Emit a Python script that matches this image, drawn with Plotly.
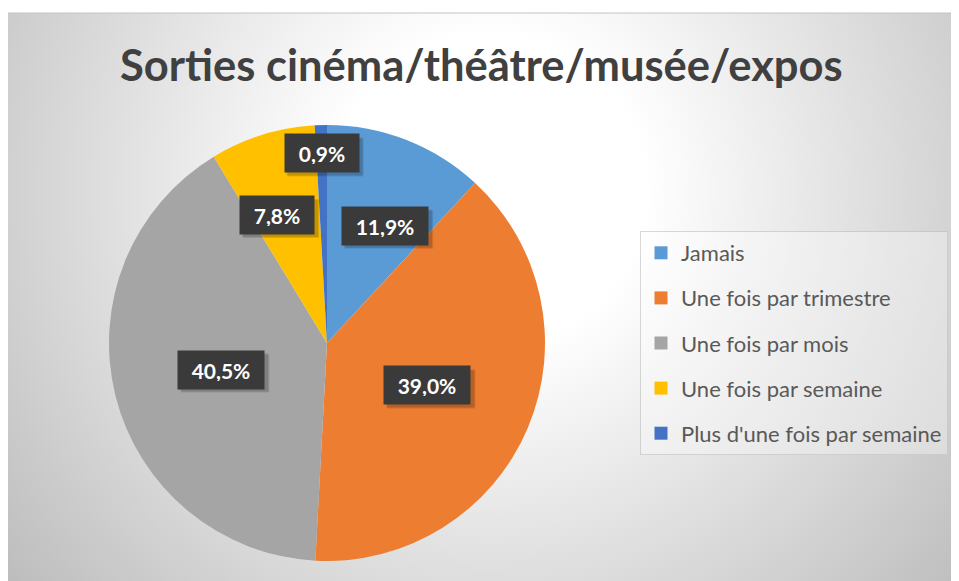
import math
import plotly.graph_objects as go

# ---- data ----
categories = ["Jamais", "Une fois par trimestre", "Une fois par mois",
              "Une fois par semaine", "Plus d'une fois par semaine"]
values = [11.9, 39.0, 40.5, 7.8, 0.9]
colors = ["#5B9BD5", "#ED7D31", "#A5A5A5", "#FFC000", "#4472C4"]
title_text = "Sorties cinéma/théâtre/musée/expos"

# ---- label placement style (fraction of radius, angular nudge in degrees) ----
label_r = [0.60, 0.50, 0.50, 0.63, 0.87]
label_nudge = [5, 0, 0, -4, 0]

OFF = 8                      # page body margin
PW, PH = 959, 581            # page size
W, H = PW - OFF, PH - OFF    # figure size


def fx(px):  # page x -> paper x
    return (px - OFF) / W


def fy(py):  # page y -> paper y
    return 1 - (py - OFF) / H


CX, CY, R = 327, 343, 218      # pie centre / radius (page pixels)
AX0, AY0 = 8, 13               # chart area top-left (page pixels)
FONT = "Lato"

fig = go.Figure()

# background radial gradient (square bbox so the gradient is circular)
GX, GY, GR = 490, 190, 620
fig.add_trace(go.Scatter(
    x=[GX - GR, GX + GR, GX + GR, GX - GR, GX - GR],
    y=[GY - GR, GY - GR, GY + GR, GY + GR, GY - GR],
    mode="lines", fill="toself", line=dict(width=0),
    fillgradient=dict(type="radial",
                      colorscale=[[0, "#ffffff"], [0.25, "#ffffff"], [1, "#bdbdbd"]]),
    hoverinfo="skip", showlegend=False,
))

# legend entries (one per category, spaced via tracegroupgap)
for c, col in zip(categories, colors):
    fig.add_trace(go.Scatter(
        x=[None], y=[None], mode="markers", name=c, legendgroup=c,
        marker=dict(symbol="square", size=13, color=col),
        showlegend=True, hoverinfo="skip",
    ))

fig.add_trace(go.Pie(
    labels=categories, values=values, sort=False, direction="clockwise",
    rotation=0, marker=dict(colors=colors, line=dict(width=0)),
    textinfo="none", showlegend=False,
    domain=dict(x=[fx(CX - R), fx(CX + R)],
                y=[fy(CY + R), fy(CY - R)]),
))

# data labels computed from the values
total = sum(values)
cum = 0.0
annotations = []
shapes = []
for i, v in enumerate(values):
    mid = (cum + v / 2) / total * 360 + label_nudge[i]
    cum += v
    a = math.radians(mid)
    px = CX + label_r[i] * R * math.sin(a)
    py = CY - label_r[i] * R * math.cos(a)
    txt = f"{v:.1f}".replace(".", ",") + "%"
    w = 12 * len(txt) + 10
    bw, bh = w + 18, 38
    # soft shadow behind the label box
    for k, alpha in ((4, 0.10), (3, 0.14)):
        shapes.append(dict(
            type="rect", xref="paper", yref="paper", layer="above",
            x0=fx(px - bw / 2 + k), x1=fx(px + bw / 2 + k),
            y0=fy(py + bh / 2 + k), y1=fy(py - bh / 2 + k),
            fillcolor=f"rgba(0,0,0,{alpha})", line=dict(width=0),
        ))
    annotations.append(dict(
        x=fx(px), y=fy(py), xref="paper", yref="paper",
        xanchor="center", yanchor="middle",
        text=f"<b>{txt}</b>", showarrow=False, width=w, height=bh - 16,
        borderpad=8, bgcolor="#3a3a3a",
        font=dict(family=FONT, size=21, color="#ffffff"),
    ))

annotations.append(dict(
    x=fx((AX0 + PW) / 2 - 2), y=fy(64), xref="paper", yref="paper",
    text=f"<b>{title_text}</b>", showarrow=False,
    font=dict(family=FONT, size=43.5, color="#404040"),
    xanchor="center", yanchor="middle",
))

shapes.append(dict(type="line", xref="paper", yref="paper", layer="above",
                   x0=fx(AX0), x1=1, y0=fy(AY0), y1=fy(AY0),
                   line=dict(color="#c4c4c4", width=1)))

fig.update_layout(
    width=W, height=H,
    margin=dict(l=0, r=0, t=0, b=0),
    paper_bgcolor="#ffffff", plot_bgcolor="rgba(0,0,0,0)",
    xaxis=dict(domain=[fx(AX0), 1], range=[AX0, PW], visible=False, fixedrange=True),
    yaxis=dict(domain=[0, fy(AY0)], range=[PH, AY0], visible=False, fixedrange=True),
    showlegend=True,
    legend=dict(
        x=fx(640), y=fy(231), xanchor="left", yanchor="top",
        bgcolor="rgba(255,255,255,0.35)", bordercolor="rgba(190,190,190,0.6)",
        borderwidth=1, font=dict(family=FONT, size=22, color="#595959"),
        traceorder="grouped", tracegroupgap=13.5, itemclick=False,
    ),
    annotations=annotations,
    shapes=shapes,
)

fig.write_html("out.html")
